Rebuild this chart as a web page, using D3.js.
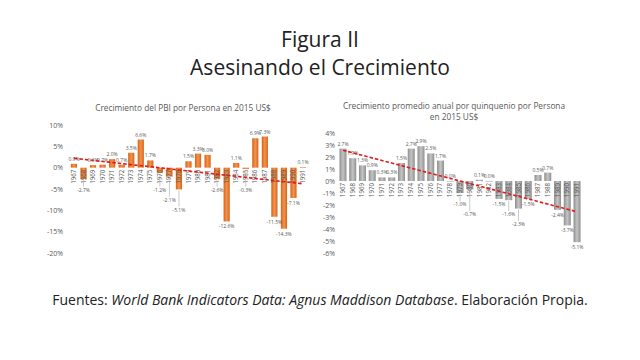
<!DOCTYPE html>
<html>
<head>
<meta charset="utf-8">
<script src="https://cdn.jsdelivr.net/npm/d3@7"></script>
<style>
  body { margin: 0; background: #fff; }
  svg text { font-family: "Open Sans", "Noto Sans", sans-serif; }
</style>
</head>
<body>
<svg id="chart" width="640" height="360"></svg>
<script>
// years shared by both panels
const years = d3.range(1967, 1992).map(String);

// left panel: crecimiento del PBI por persona (%)
const pbiGrowth = [0.9, -2.7, 0.6, 0.7, 2.0, 0.7, 3.5, 6.6, 1.7, -1.2, -2.1, -5.1,
  1.5, 3.3, 3.0, -2.6, -12.6, 1.1, -0.3, 6.9, 7.3, -11.5, -14.3, -7.1, 0.1];

// right panel: crecimiento promedio anual por quinquenio (%)
const quinqGrowth = [2.7, 1.9, 1.3, 0.9, 0.3, 0.3, 1.5, 2.7, 2.9, 2.3, 1.7, 0.0,
  -1.0, -0.7, 0.1, 0.0, -1.5, -1.6, -2.3, -1.5, 0.5, 0.7, -2.4, -3.7, -5.1];

const leftTicks = [10, 5, 0, -5, -10, -15, -20];
const rightTicks = [4, 3, 2, 1, 0, -1, -2, -3, -4, -5, -6];

const svg = d3.select('#chart');
const defs = svg.append('defs');

function barGradient(id, edge, mid) {
  const g = defs.append('linearGradient').attr('id', id)
    .attr('x1', '0%').attr('x2', '100%').attr('y1', '0%').attr('y2', '0%');
  g.append('stop').attr('offset', '0%').attr('stop-color', edge);
  g.append('stop').attr('offset', '50%').attr('stop-color', mid);
  g.append('stop').attr('offset', '100%').attr('stop-color', edge);
}
barGradient('orange', '#d8631a', '#f4934a');
barGradient('grey', '#8f8f8f', '#c4c4c4');

// least squares trend over the bar index
function trend(vals) {
  const n = vals.length;
  const mx = (n - 1) / 2;
  const my = d3.mean(vals);
  let sxy = 0, sxx = 0;
  vals.forEach((v, i) => { sxy += (i - mx) * (v - my); sxx += (i - mx) * (i - mx); });
  const b = sxy / sxx;
  return [my - b * mx, my + b * (n - 1 - mx)];
}

function fmt(v) { return v.toFixed(1) + '%'; }

function panel(opts) {
  const g = svg.append('g');
  const x = d3.scaleBand().domain(years).range(opts.xr)
    .paddingInner(opts.pad).paddingOuter(opts.pad / 2);
  const y = d3.scaleLinear().domain(opts.domain).range(opts.yr);
  const y0 = y(0);

  // title
  const t = g.append('text').attr('x', opts.titleX).attr('y', opts.titleY)
    .attr('text-anchor', 'middle').attr('fill', '#595959').attr('font-size', 8.3);
  opts.title.forEach((line, i) => {
    t.append('tspan').attr('x', opts.titleX).attr('dy', i === 0 ? 0 : 11).text(line);
  });

  // y axis
  const ax = g.append('g').attr('transform', `translate(${opts.axisX},0)`)
    .call(d3.axisLeft(y).tickValues(opts.ticks).tickSize(0).tickPadding(0)
      .tickFormat(d => d + '%'));
  ax.select('.domain').remove();
  ax.selectAll('text').attr('fill', '#595959').attr('font-size', 7)
    .style('font-family', '"Open Sans", sans-serif');

  const data = years.map((yr, i) => ({ yr, v: opts.values[i] }));

  // bars
  g.append('g').selectAll('rect').data(data).join('rect')
    .attr('x', d => x(d.yr))
    .attr('width', x.bandwidth())
    .attr('y', d => Math.min(y(d.v), y0))
    .attr('height', d => Math.max(0.6, Math.abs(y(d.v) - y0)))
    .attr('fill', `url(#${opts.grad})`);

  // year labels over the bars
  g.append('g').selectAll('text').data(data).join('text')
    .attr('transform', d => `translate(${x(d.yr) + x.bandwidth() / 2 + 2},${y0 + 2}) rotate(-90)`)
    .attr('text-anchor', 'end')
    .attr('fill', '#595959')
    .attr('font-size', 6.2)
    .text(d => d.yr);

  // value labels
  let prev = null;
  const lbl = g.append('g');
  data.forEach(d => {
    const cx = x(d.yr) + x.bandwidth() / 2;
    if (d.v >= 0) {
      lbl.append('text').attr('x', cx).attr('y', y(d.v) - 3)
        .attr('text-anchor', 'middle').attr('fill', '#595959').attr('font-size', 5)
        .text(fmt(d.v));
      prev = null;
    } else {
      const end = y(d.v);
      let ly = Math.max(end + 7, y0 + opts.negGap);
      if (prev && Math.abs(prev.ly - ly) < 6 && cx - prev.cx < 12) ly = prev.ly + 10;
      if (ly - end > 9) {
        lbl.append('line').attr('x1', cx).attr('x2', cx)
          .attr('y1', end + 1).attr('y2', ly - 5)
          .attr('stroke', '#a6a6a6').attr('stroke-width', 0.6);
      }
      lbl.append('text').attr('x', cx).attr('y', ly)
        .attr('text-anchor', 'middle').attr('fill', '#595959').attr('font-size', 5)
        .text(fmt(d.v));
      prev = { cx, ly };
    }
  });

  // trend line
  const tr = trend(opts.values);
  g.append('line')
    .attr('x1', x(years[0]) + x.bandwidth() / 2).attr('y1', y(tr[0]))
    .attr('x2', x(years[years.length - 1]) + x.bandwidth() / 2).attr('y2', y(tr[1]))
    .attr('stroke', '#e31b1b').attr('stroke-width', 1.6).attr('stroke-dasharray', '3.5,2');
}

panel({
  values: pbiGrowth, domain: [-20, 10], yr: [253, 125], xr: [69.2, 307.8], pad: 0.35,
  ticks: leftTicks, axisX: 63, grad: 'orange', negGap: 24,
  title: ['Crecimiento del PBI por  Persona en 2015 US$'], titleX: 183, titleY: 111
});

panel({
  values: quinqGrowth, domain: [-6, 4], yr: [253, 133], xr: [338.1, 581.9], pad: 0.28,
  ticks: rightTicks, axisX: 335, grad: 'grey', negGap: 25,
  title: ['Crecimiento promedio anual por quinquenio por  Persona', 'en 2015 US$'], titleX: 454, titleY: 109
});

// main title
svg.append('text').attr('x', 320).attr('y', 47).attr('text-anchor', 'middle')
  .attr('fill', '#222').attr('font-size', 21).text('Figura II');
svg.append('text').attr('x', 320).attr('y', 75).attr('text-anchor', 'middle')
  .attr('fill', '#222').attr('font-size', 21).text('Asesinando el Crecimiento');

// sources
const src = svg.append('text').attr('x', 320).attr('y', 305).attr('text-anchor', 'middle')
  .attr('fill', '#222').attr('font-size', 14);
src.append('tspan').text('Fuentes: ');
src.append('tspan').attr('font-style', 'italic').text('World Bank Indicators Data: Agnus Maddison Database');
src.append('tspan').text('. Elaboración Propia.');
</script>
</body>
</html>
